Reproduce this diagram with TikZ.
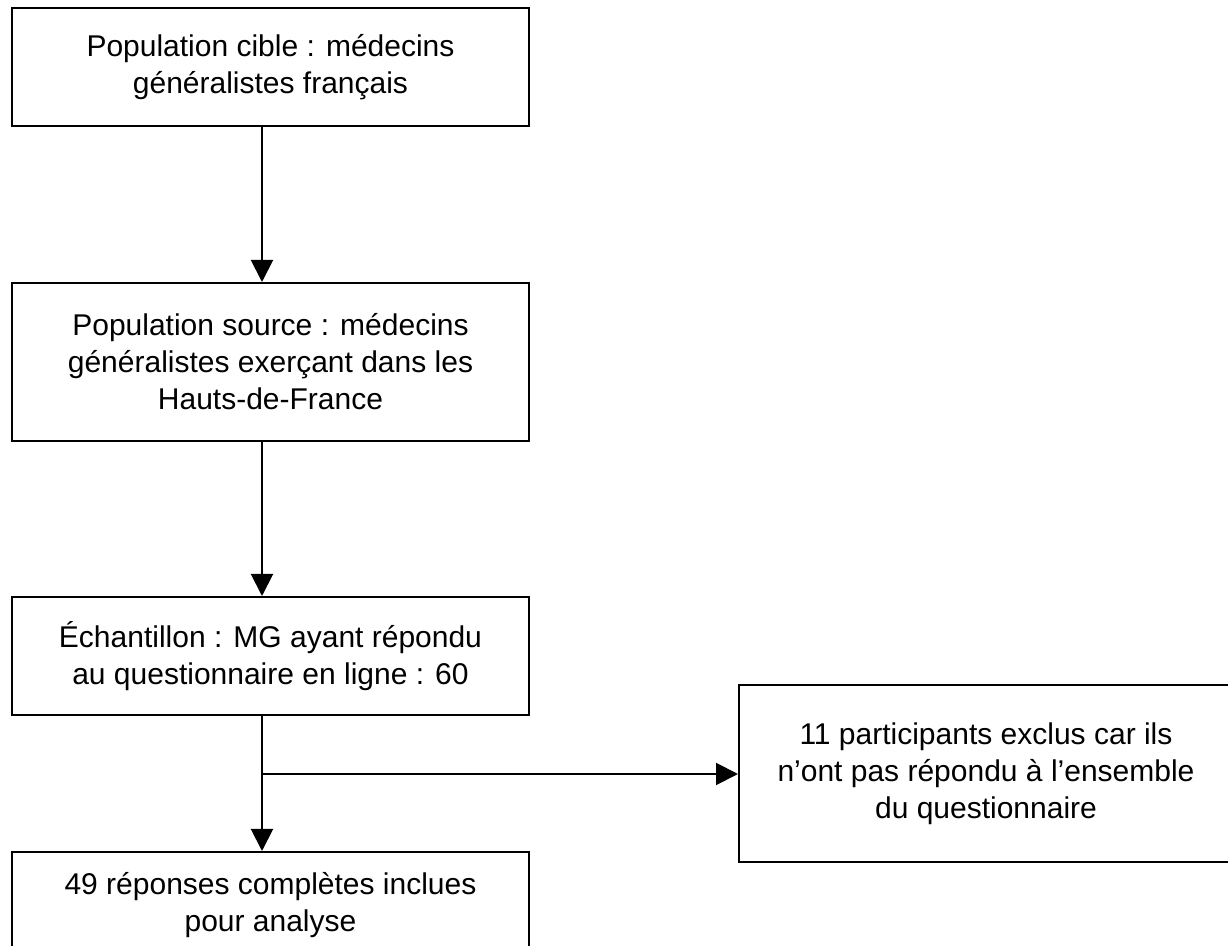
\documentclass[tikz,border=0pt]{standalone}
\usepackage{fontspec}
\setmainfont{Liberation Sans}
\usetikzlibrary{arrows.meta}
\begin{document}
\begin{tikzpicture}[x=0.5pt,y=-0.5pt,
    box/.style={draw, line width=1pt, minimum width=258.5pt, inner sep=0pt, align=center,
        font=\fontsize{15}{18.5}\selectfont},
    arr/.style={-{Triangle[length=11pt,width=11pt]}, line width=1pt}]
    % page frame
    \useasboundingbox (0,0) rectangle (1228,946);
    \clip (0,0) rectangle (1228,946);

    % main column
    \node[box, minimum height=59pt] (cible) at (270.5,67) {Population cible : médecins\\généralistes français};
    \node[box, minimum height=79pt] (source) at (270.5,362) {Population source : médecins\\généralistes exerçant dans les\\Hauts-de-France};
    \node[box, minimum height=59pt] (echant) at (270.5,656) {Échantillon : MG ayant répondu\\au questionnaire en ligne : 60};
    \node[box, minimum height=53pt] (inclus) at (270.5,905) {49 réponses complètes inclues\\pour analyse};

    % excluded participants
    \node[box, minimum width=247pt, minimum height=88.5pt] (exclus) at (986,773.5) {11 participants exclus car ils\\n’ont pas répondu à l’ensemble\\du questionnaire};

    % arrows
    \coordinate (ax) at (262,0);
    \coordinate (br) at (262,774);
    \draw[arr] (cible.south -| ax) -- (source.north -| ax);
    \draw[arr] (source.south -| ax) -- (echant.north -| ax);
    \draw[arr] (echant.south -| ax) -- (inclus.north -| ax);
    \draw[arr] (br) -- (br -| exclus.west);
\end{tikzpicture}
\end{document}
